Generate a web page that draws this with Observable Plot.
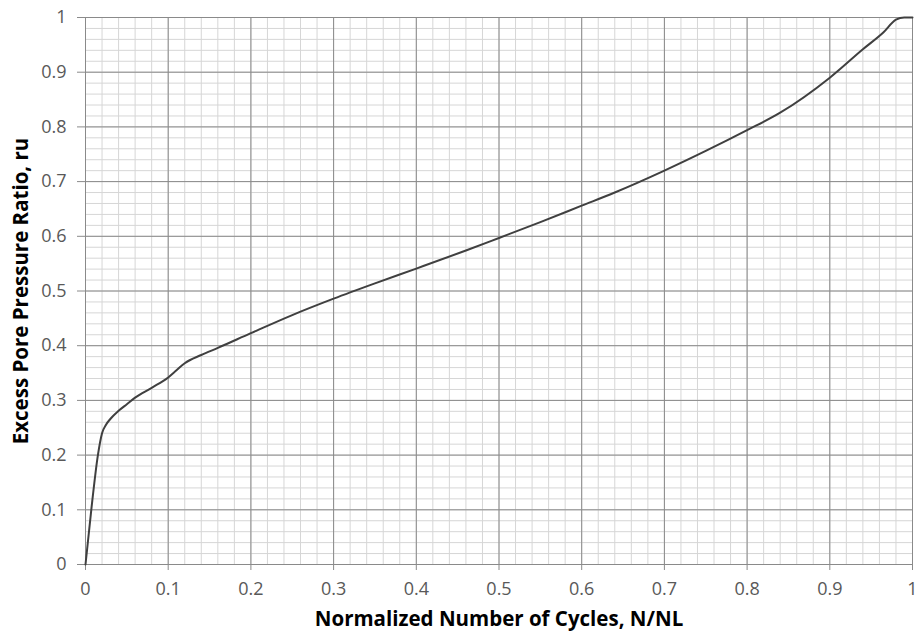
<!DOCTYPE html>
<html>
<head>
<meta charset="utf-8">
<script src="https://cdn.jsdelivr.net/npm/d3@7"></script>
<script src="https://cdn.jsdelivr.net/npm/@observablehq/plot@0.6"></script>
<style>
  html, body { margin: 0; padding: 0; background: #fff; }
  #chart g[aria-label$="tick label"], #chart g[aria-label$="tick label"] text { font-size: 18px !important; }
</style>
</head>
<body>
<div id="chart"></div>
<script>
// Normalized number of cycles (N/NL)
const cycles = [0, 0.007, 0.015, 0.02, 0.025, 0.03, 0.04, 0.05, 0.06, 0.08, 0.1, 0.11, 0.12, 0.14, 0.16, 0.2, 0.25, 0.3, 0.35, 0.4, 0.46, 0.5, 0.55, 0.6, 0.64, 0.7, 0.75, 0.8, 0.84, 0.9, 0.94, 0.965, 0.98, 0.99, 1.0];
// Excess pore pressure ratio (ru)
const ru = [0, 0.1, 0.2, 0.24, 0.256, 0.266, 0.281, 0.293, 0.305, 0.323, 0.342, 0.355, 0.368, 0.383, 0.396, 0.423, 0.456, 0.486, 0.514, 0.541, 0.574, 0.597, 0.626, 0.656, 0.68, 0.72, 0.756, 0.794, 0.826, 0.89, 0.942, 0.973, 0.996, 1.0, 1.0];

const xTicks = [0, 0.1, 0.2, 0.3, 0.4, 0.5, 0.6, 0.7, 0.8, 0.9, 1];
const yTicks = [0, 0.1, 0.2, 0.3, 0.4, 0.5, 0.6, 0.7, 0.8, 0.9, 1];
const minorStep = 0.02;
const xLabel = "Normalized Number of Cycles, N/NL";
const yLabel = "Excess Pore Pressure Ratio, ru";

const data = cycles.map((c, i) => ({x: c, y: ru[i]}));
const minor = d3.range(0, 1.0001, minorStep).map(v => +v.toFixed(2));
const fmt = d => String(+(+d).toFixed(1));

const chart = Plot.plot({
  width: 919,
  height: 638,
  marginLeft: 85,
  marginRight: 7,
  marginTop: 17,
  marginBottom: 74,
  style: {fontFamily: "'Open Sans', sans-serif", fontSize: "18px", background: "#fff", overflow: "visible"},
  x: {domain: [0, 1]},
  y: {domain: [0, 1]},
  marks: [
    Plot.ruleX(minor, {stroke: "#d6d6d6", strokeWidth: 1}),
    Plot.ruleY(minor, {stroke: "#d6d6d6", strokeWidth: 1}),
    Plot.ruleX(xTicks, {stroke: "#8a8a8a", strokeWidth: 1}),
    Plot.ruleY(yTicks, {stroke: "#8a8a8a", strokeWidth: 1}),
    Plot.axisX({ticks: xTicks, tickFormat: fmt, tickSize: 6, tickPadding: 12, stroke: "#8a8a8a", fill: "#595959", fontSize: 18, label: null}),
    Plot.axisY({ticks: yTicks, tickFormat: fmt, tickSize: 8, tickPadding: 11, stroke: "#8a8a8a", fill: "#595959", fontSize: 18, label: null}),
    Plot.line(data, {x: "x", y: "y", stroke: "#404040", strokeWidth: 2, curve: "monotone-x"}),
    Plot.text([xLabel], {frameAnchor: "bottom", dy: 61, fontWeight: "bold", fontSize: 20.5, fill: "#000"}),
    Plot.text([yLabel], {frameAnchor: "left", textAnchor: "middle", dx: -64, rotate: -90, fontWeight: "bold", fontSize: 20.5, fill: "#000"})
  ]
});
document.getElementById("chart").appendChild(chart);
</script>
</body>
</html>
